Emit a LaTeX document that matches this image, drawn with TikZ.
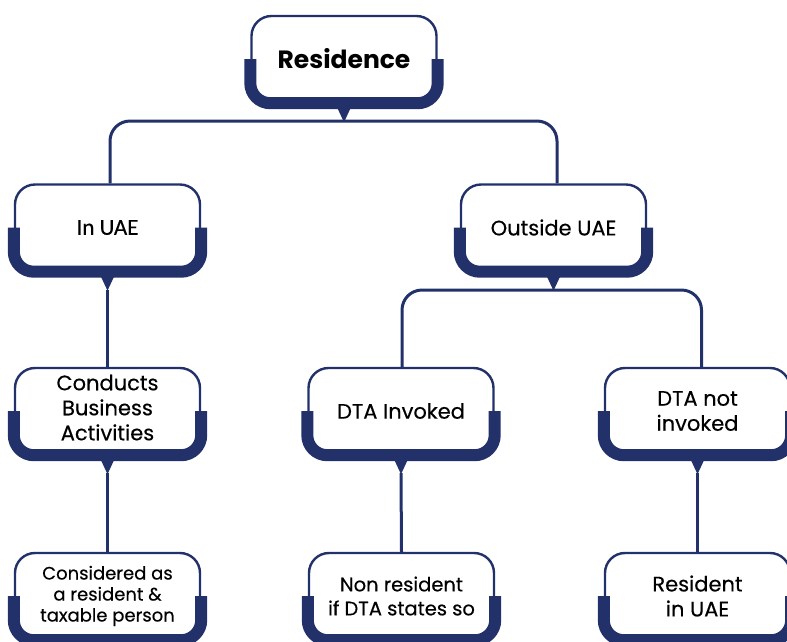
\documentclass[tikz,border=0pt]{standalone}
\usepackage{fontspec}
\setmainfont{Poppins}
\newfontfamily\popmed{Poppins}[FakeBold=0.35]
\newfontfamily\carlito{Carlito}[FakeBold=0.35]
\definecolor{navy}{RGB}{34,49,106}
\newcommand\boxband[1]{%
  \draw[navy, line width=12pt, rounded corners=20pt] (#1.west) -- (#1.south west) -- (#1.south east) -- (#1.east);
  \fill[navy] ([xshift=-7pt,yshift=-4pt]#1.south) -- ([xshift=7pt,yshift=-4pt]#1.south) -- ([yshift=-19pt]#1.south) -- cycle;
  \coordinate (#1tip) at ([yshift=-18pt]#1.south);
}
\begin{document}
\begin{tikzpicture}[x=1pt,y=-1pt,
  box/.style={draw=navy, line width=2.4pt, fill=white, rounded corners=20pt,
    minimum width=185pt, minimum height=86pt, align=center, inner sep=0pt,
    font=\fontsize{21}{25}\selectfont\popmed},
  conn/.style={draw=navy, line width=3pt, rounded corners=20pt}]
\useasboundingbox (0,0) rectangle (787,641);
\fill[white] (0,0) rectangle (787,641);

\node[box, font=\fontsize{25}{30}\selectfont\bfseries] (res) at (344,59) {Residence};
\node[box, font=\fontsize{23}{27}\selectfont\carlito] (inuae) at (107.5,227.5) {In UAE};
\node[box] (outside) at (553.5,227.5) {Outside UAE};
\node[box] (conducts) at (107.5,411) {Conducts\\Business\\Activities\\[-18pt]};
\node[box] (dtainv) at (401,411) {DTA Invoked};
\node[box] (dtanot) at (697.5,411) {DTA not\\invoked};
\node[box, font=\fontsize{18}{21}\selectfont\popmed] (considered) at (107.5,596) {Considered as\\a resident \&\\taxable person};
\node[box, font=\fontsize{19.5}{24}\selectfont\popmed] (nonres) at (401.5,596) {Non resident\\if DTA states so};
\node[box] (resuae) at (697.5,596) {Resident\\in UAE};

\foreach \n in {res,inuae,outside,conducts,dtainv,dtanot,considered,nonres,resuae} {\boxband{\n}}

\coordinate (s1) at (344,121);
\draw[conn] ([xshift=2.5pt]inuae.north) -- ([xshift=2.5pt]inuae.north |- s1) -- ([xshift=3.5pt]outside.north |- s1) -- ([xshift=3.5pt]outside.north);
\coordinate (s2) at (553.5,290);
\draw[conn] ([xshift=1pt]dtainv.north) -- ([xshift=1pt]dtainv.north |- s2) -- ([xshift=4pt]dtanot.north |- s2) -- ([xshift=4pt]dtanot.north);
\draw[conn] (inuaetip) -- (conducts.north);
\draw[conn] (conductstip) -- (considered.north);
\draw[conn] (dtainvtip) -- (nonres.north);
\draw[conn] (dtanottip) -- (resuae.north);
\end{tikzpicture}
\end{document}
